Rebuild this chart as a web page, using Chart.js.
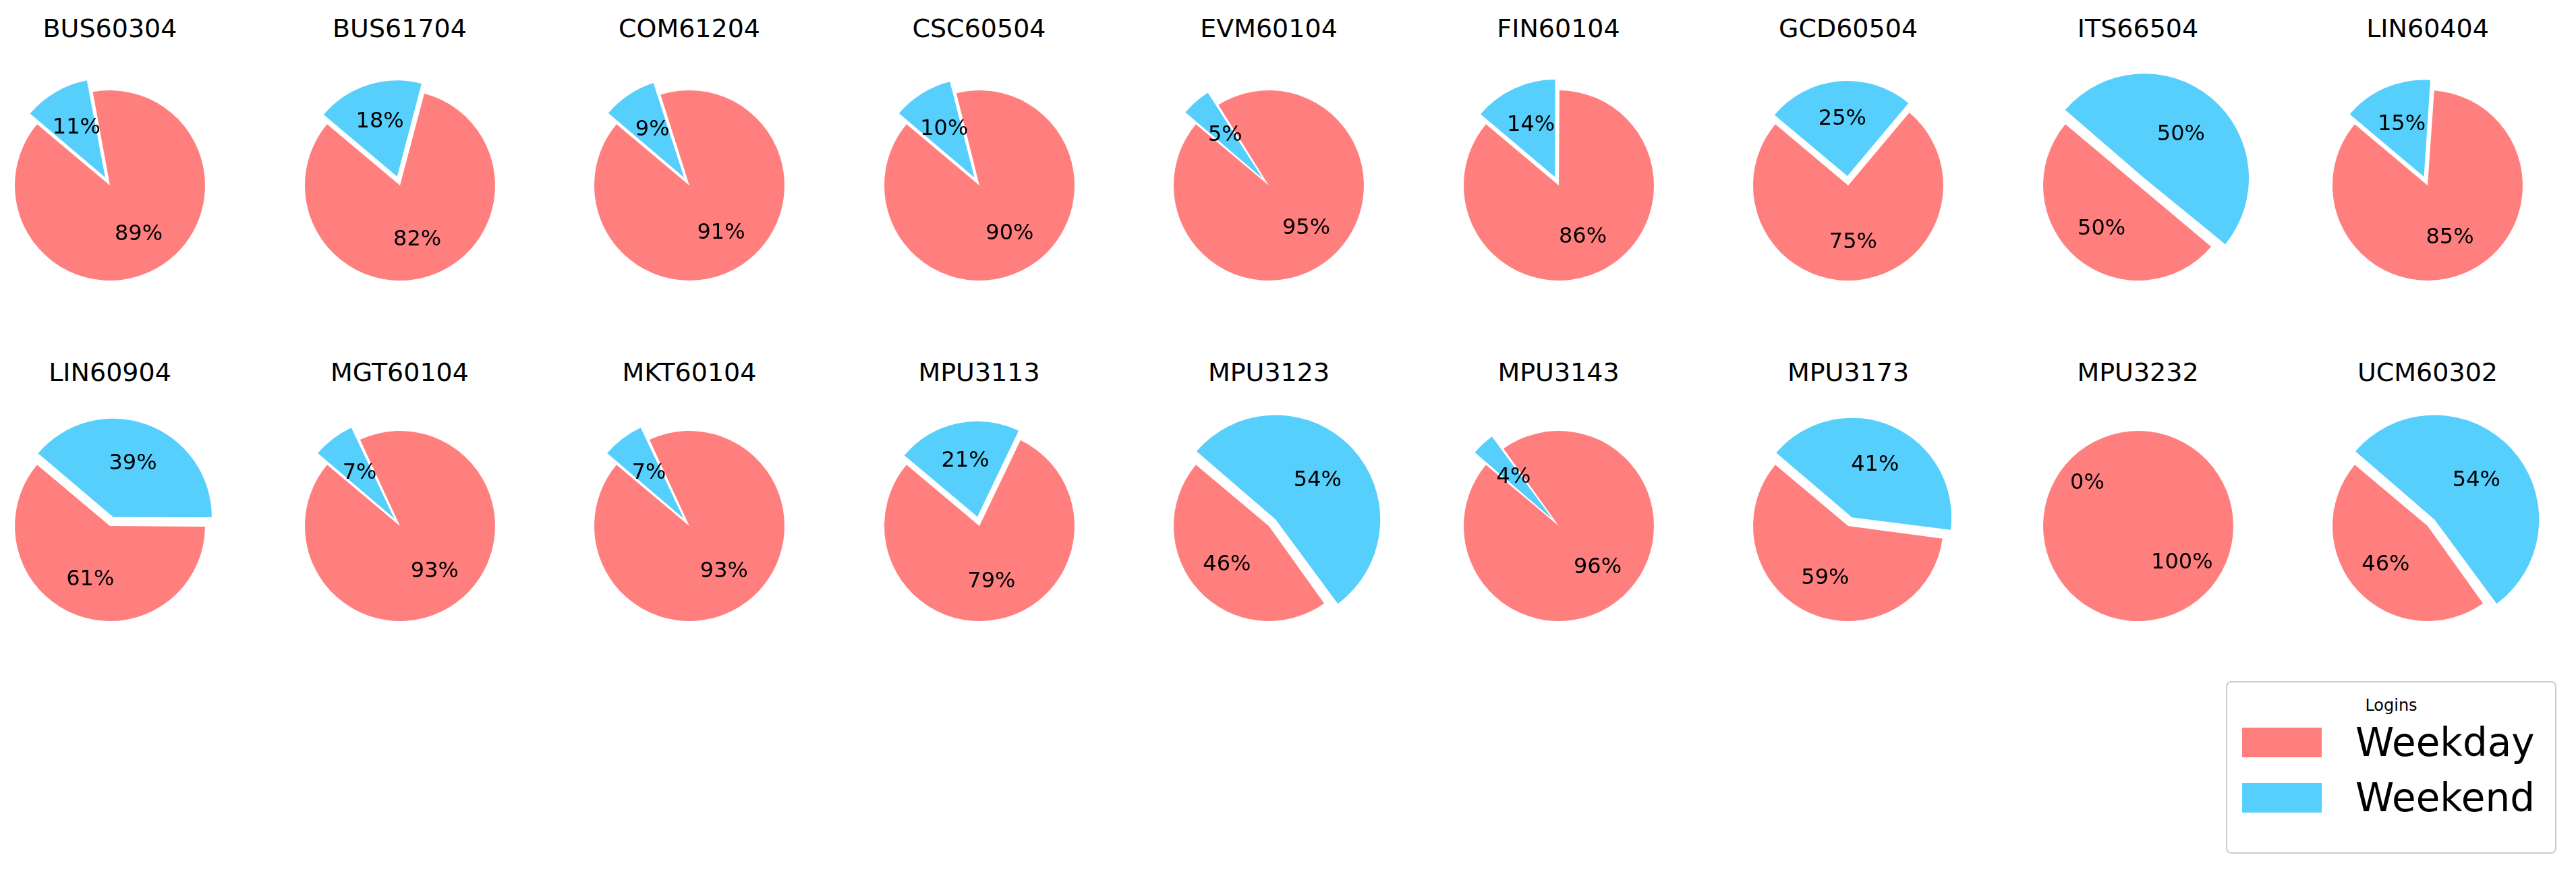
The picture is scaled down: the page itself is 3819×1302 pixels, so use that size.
<!DOCTYPE html>
<html>
<head>
<meta charset="utf-8" />
<title>Logins</title>
<script src="https://cdn.jsdelivr.net/npm/chart.js@4.4.0/dist/chart.umd.min.js"></script>
<style>
  body { margin:0; background:#fff; width:3819px; height:1302px; position:relative; overflow:hidden;
         font-family:"DejaVu Sans", sans-serif; }
  .ttl { position:absolute; width:430px; text-align:center; font-size:38px; color:#000; }
  .pie { position:absolute; }
  #legend { position:absolute; left:3300px; top:1010px; width:490px; height:256px; border:2px solid #ccc;
            border-radius:8px; box-sizing:border-box; }
  #legend .lt { text-align:center; font-size:24px; margin-top:20px; }
  #legend .row { display:flex; align-items:center; margin-left:22px; height:82px; font-size:58px; }
  #legend .sw { width:118px; height:44px; margin-right:50px; }
</style>
</head>
<body>
<div id="legend"><div class="lt">Logins</div></div>
<script>
// course codes, weekend share in percent
const courses = ['BUS60304','BUS61704','COM61204','CSC60504','EVM60104','FIN60104','GCD60504','ITS66504','LIN60404',
                 'LIN60904','MGT60104','MKT60104','MPU3113','MPU3123','MPU3143','MPU3173','MPU3232','UCM60302'];
const weekend = [11,18,9,10,5,14,25,50,15, 39,7,7,21,54,4,41,0,54];
const weekday = weekend.map(v => 100 - v);
const seriesNames = ['Weekday', 'Weekend'];
const colors = ['#FF7F7F', '#56CFFD'];

const R = 141, EXPLODE = 14, W = 430, H = 400;

// draw the percent labels at 0.6 of the radius
const pctLabels = {
  id: 'pctLabels',
  afterDatasetsDraw(chart) {
    const ctx = chart.ctx;
    const meta = chart.getDatasetMeta(0);
    ctx.save();
    ctx.font = '32px "DejaVu Sans"';
    ctx.fillStyle = '#000';
    ctx.textAlign = 'center';
    ctx.textBaseline = 'middle';
    meta.data.forEach((arc, i) => {
      const mid = (arc.startAngle + arc.endAngle) / 2;
      const d = arc.outerRadius * 0.6 + (i === 0 ? EXPLODE : 0);
      ctx.fillText(chart.data.datasets[0].data[i] + '%', arc.x + Math.cos(mid) * d, arc.y + Math.sin(mid) * d);
    });
    ctx.restore();
  }
};

courses.forEach((name, i) => {
  const col = i % 9, row = Math.floor(i / 9);
  const cx = 163 + col * 429.5, cy = row ? 780 : 275;
  const ty = row ? 530 : 20;

  const t = document.createElement('div');
  t.className = 'ttl'; t.textContent = name;
  t.style.left = (cx - W / 2) + 'px'; t.style.top = ty + 'px';
  document.body.appendChild(t);

  const c = document.createElement('canvas');
  c.className = 'pie';
  c.width = W; c.height = H;
  c.style.left = (cx - W / 2) + 'px'; c.style.top = (cy - H / 2) + 'px';
  document.body.appendChild(c);

  new Chart(c, {
    type: 'pie',
    data: {
      labels: [seriesNames[1], seriesNames[0]],
      datasets: [{
        data: [weekend[i], weekday[i]],
        backgroundColor: [colors[1], colors[0]],
        borderWidth: 0,
        offset: [EXPLODE * 4, 0]
      }]
    },
    options: {
      responsive: false,
      animation: false,
      rotation: -50,
      radius: R,
      layout: { padding: 0 },
      plugins: { legend: { display: false }, tooltip: { enabled: false } }
    },
    plugins: [pctLabels]
  });
});

const lg = document.getElementById('legend');
seriesNames.forEach((n, i) => {
  const r = document.createElement('div');
  r.className = 'row';
  r.innerHTML = '<div class="sw" style="background:' + colors[i] + '"></div>' + n;
  lg.appendChild(r);
});
</script>
</body>
</html>
